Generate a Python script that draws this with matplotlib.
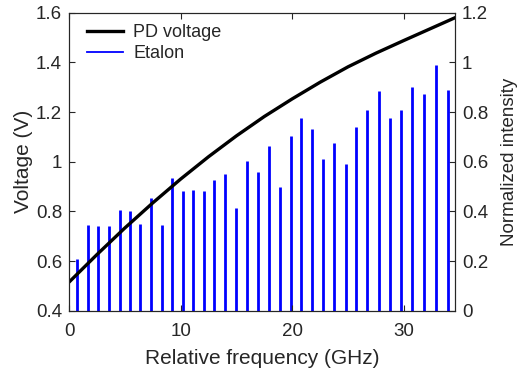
import numpy as np
import matplotlib
matplotlib.use("Agg")
import matplotlib.pyplot as plt
from matplotlib.lines import Line2D

plt.rcParams["font.family"] = ["Liberation Sans", "DejaVu Sans"]

# PD voltage curve (GHz, V)
freq_pd = [0.0, 2.5, 5.0, 7.5, 10.0, 12.5, 15.0, 17.5, 20.0, 22.5,
           25.0, 27.5, 30.0, 32.5, 34.6]
volt_pd = [0.515, 0.626, 0.733, 0.834, 0.930, 1.020, 1.104, 1.182, 1.253, 1.320,
           1.382, 1.437, 1.488, 1.538, 1.580]

# Etalon transmission peaks (GHz, normalized intensity)
freq_et = [0.74, 1.73, 2.63, 3.61, 4.57, 5.50, 6.39, 7.35, 8.31, 9.26,
           10.20, 11.15, 12.11, 13.03, 13.99, 14.98, 15.99, 16.89, 17.91, 18.86,
           19.85, 20.81, 21.79, 22.78, 23.74, 24.82, 25.71, 26.73, 27.74, 28.73,
           29.78, 30.74, 31.78, 32.89, 33.93]
int_et = [0.210, 0.344, 0.340, 0.340, 0.405, 0.401, 0.351, 0.454, 0.344, 0.534,
          0.482, 0.485, 0.480, 0.526, 0.550, 0.413, 0.602, 0.558, 0.665, 0.499,
          0.704, 0.774, 0.732, 0.609, 0.675, 0.591, 0.738, 0.809, 0.883, 0.774,
          0.810, 0.899, 0.872, 0.990, 0.887]

gray = "#262626"

fig = plt.figure(figsize=(5.19, 3.73), dpi=100)
ax = fig.add_axes([0.133, 0.167, 0.744, 0.799])
ax2 = ax.twinx()

ax2.vlines(freq_et, 0, int_et, colors="#0000ff", linewidth=2.0)
ax.plot(freq_pd, volt_pd, color="k", linewidth=2.4)

# curve on top of the peaks
ax.set_zorder(ax2.get_zorder() + 1)
ax.patch.set_visible(False)

ax.set_xlim(0, 34.6)
ax.set_ylim(0.4, 1.6)
ax2.set_ylim(0, 1.2)
ax.set_xticks([0, 10, 20, 30])
ax.set_yticks([0.4, 0.6, 0.8, 1.0, 1.2, 1.4, 1.6])
ax.set_yticklabels(["0.4", "0.6", "0.8", "1", "1.2", "1.4", "1.6"])
ax2.set_yticks([0, 0.2, 0.4, 0.6, 0.8, 1.0, 1.2])
ax2.set_yticklabels(["0", "0.2", "0.4", "0.6", "0.8", "1", "1.2"])

ax.tick_params(axis="x", direction="in", top=True, length=4, labelsize=13.5,
               colors=gray, pad=9)
ax.tick_params(axis="y", direction="in", length=4, labelsize=13.5, colors=gray, pad=5)
ax2.tick_params(axis="y", direction="in", length=4, labelsize=13.5, colors=gray, pad=5)
for a in (ax, ax2):
    for s in a.spines.values():
        s.set_color(gray)
        s.set_linewidth(0.8)

ax.set_xlabel("Relative frequency (GHz)", fontsize=15, color=gray, labelpad=6)
ax.set_ylabel("Voltage (V)", fontsize=15, color=gray, labelpad=2)
ax2.set_ylabel("Normalized intensity", fontsize=13.5, color=gray, labelpad=9)

handles = [Line2D([], [], color="k", linewidth=2.4),
           Line2D([], [], color="#0000ff", linewidth=1.3)]
leg = ax.legend(handles, ["PD voltage", "Etalon"], loc="upper left",
                bbox_to_anchor=(0.028, 0.985), borderaxespad=0, frameon=False,
                fontsize=13, handlelength=2.0, labelspacing=0.22,
                handletextpad=0.55)
for t in leg.get_texts():
    t.set_color(gray)

fig.savefig("out.png", dpi=100)
